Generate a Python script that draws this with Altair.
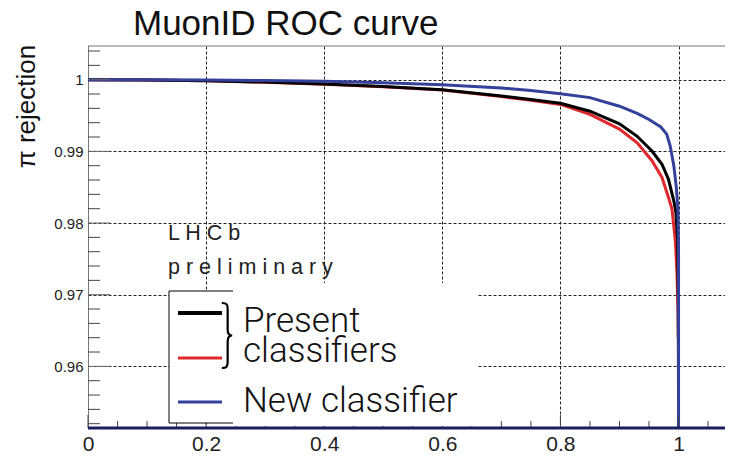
import altair as alt
import pandas as pd

# ---------------- data ----------------
# New classifier (blue)
new_x = [0, 0.1, 0.2, 0.3, 0.4, 0.5, 0.6, 0.7, 0.75, 0.8, 0.85, 0.9, 0.93, 0.95,
         0.97, 0.98, 0.986, 0.992, 0.996, 0.999, 1.0, 1.0]
new_y = [1.0, 0.99998, 0.99995, 0.99988, 0.99977, 0.99958, 0.99930, 0.99885, 0.99850,
         0.99805, 0.99750, 0.99630, 0.99530, 0.99445, 0.99340, 0.99240, 0.99070,
         0.98800, 0.98520, 0.98200, 0.97600, 0.95000]

# Present classifier 1 (black)
pres1_x = [0, 0.1, 0.2, 0.3, 0.4, 0.5, 0.6, 0.7, 0.75, 0.8, 0.85, 0.9, 0.93, 0.955,
           0.972, 0.983, 0.992, 0.9955, 0.9985, 0.9995, 1.0]
pres1_y = [1.0, 0.99995, 0.99986, 0.99966, 0.99940, 0.99905, 0.99860, 0.99772, 0.99722,
           0.99672, 0.99560, 0.99385, 0.99210, 0.99005, 0.98820, 0.98610, 0.98310,
           0.98150, 0.97750, 0.97000, 0.95530]

# Present classifier 2 (red)
pres2_x = [0, 0.1, 0.2, 0.3, 0.4, 0.5, 0.6, 0.7, 0.75, 0.8, 0.85, 0.9, 0.93, 0.955,
           0.972, 0.983, 0.989, 0.9946, 0.9975, 0.999, 0.9995]
pres2_y = [1.0, 0.99995, 0.99985, 0.99965, 0.99938, 0.99902, 0.99855, 0.99765, 0.99712,
           0.99655, 0.99515, 0.99310, 0.99120, 0.98870, 0.98636, 0.98357, 0.98190,
           0.97750, 0.97280, 0.96800, 0.96400]

# axis ticks
x_major = [0, 0.2, 0.4, 0.6, 0.8, 1.0]
x_minor = [0.05, 0.1, 0.15, 0.25, 0.3, 0.35, 0.45, 0.5, 0.55, 0.65, 0.7, 0.75,
           0.85, 0.9, 0.95, 1.05]
y_major = [0.96, 0.97, 0.98, 0.99, 1.0]
y_minor = [0.952, 0.954, 0.956, 0.958, 0.962, 0.964, 0.966, 0.968, 0.972, 0.974,
           0.976, 0.978, 0.982, 0.984, 0.986, 0.988, 0.992, 0.994, 0.996, 0.998,
           1.002, 1.004]

title_text = "MuonID ROC curve"
y_title = "π rejection"
legend_present = ["Present", "classifiers"]
legend_new = "New classifier"
lhcb_lines = ["L H C b", "p r e l i m i n a r y"]

# ---------------- layout ----------------
W, H = 637, 382
xscale = alt.Scale(domain=[0, 1.0787], nice=False, zero=False)
yscale = alt.Scale(domain=[0.9514, 1.0047], nice=False, zero=False)

FONT = "Liberation Sans"
LIGHT = "Roboto"

x_axis = alt.Axis(values=x_major, format=".1~f", title=None, grid=True,
                  gridColor="#222", gridDash=[3, 2], gridWidth=1, ticks=False,
                  domain=False, labelFontSize=21, labelFont=FONT, labelColor="#222",
                  labelPadding=5, labelFlush=False, labelOverlap=False, labelBound=False)
y_axis = alt.Axis(values=y_major, format=".2~f", title=y_title, grid=True,
                  gridColor="#222", gridDash=[3, 2], gridWidth=1, ticks=False,
                  domain=True, domainColor="#777", domainWidth=1,
                  labelFontSize=15, labelFont=FONT, labelColor="#222", labelPadding=5,
                  labelOverlap=False, labelFlush=False,
                  titleFont=FONT, titleFontSize=26, titleFontWeight="normal",
                  titleColor="#111", titleAngle=270, titleX=-54, titleY=60,
                  titleAlign="center", titleBaseline="alphabetic")


def sdf(xs, ys):
    return pd.DataFrame({"x": xs, "y": ys, "i": list(range(len(xs)))})


def curve(xs, ys, color, width):
    return alt.Chart(sdf(xs, ys)).mark_line(color=color, strokeWidth=width, clip=True).encode(
        x=alt.X("x:Q", scale=xscale, axis=x_axis),
        y=alt.Y("y:Q", scale=yscale, axis=y_axis),
        order=alt.Order("i:Q"),
    )


red = curve(pres2_x, pres2_y, "#e0282c", 3)
black = curve(pres1_x, pres1_y, "#000000", 3)
blue = curve(new_x, new_y, "#33419c", 3)

# tick marks pointing inward
ymaj = alt.Chart(pd.DataFrame({"y": y_major})).mark_rule(color="#666", strokeWidth=1).encode(
    y=alt.Y("y:Q", scale=yscale, axis=y_axis), x=alt.value(0), x2=alt.value(22))
ymin = alt.Chart(pd.DataFrame({"y": y_minor})).mark_rule(color="#444", strokeWidth=1, clip=True).encode(
    y=alt.Y("y:Q", scale=yscale, axis=y_axis), x=alt.value(0), x2=alt.value(12))
xmaj = alt.Chart(pd.DataFrame({"x": x_major})).mark_rule(color="#444", strokeWidth=1).encode(
    x=alt.X("x:Q", scale=xscale, axis=x_axis), y=alt.value(H), y2=alt.value(H - 13))
xmin = alt.Chart(pd.DataFrame({"x": x_minor})).mark_rule(color="#444", strokeWidth=1).encode(
    x=alt.X("x:Q", scale=xscale, axis=x_axis), y=alt.value(H), y2=alt.value(H - 7))

one = pd.DataFrame({"k": [0]})

top_line = alt.Chart(one).mark_rule(color="#777", strokeWidth=1).encode(
    x=alt.value(0), x2=alt.value(W), y=alt.value(0))

title = alt.Chart(one).mark_text(align="left", baseline="alphabetic", font=FONT,
                                 fontSize=35, color="#111").encode(
    x=alt.value(45), y=alt.value(-11), text=alt.value(title_text))

lhcb1 = alt.Chart(one).mark_text(align="left", baseline="alphabetic", font=FONT,
                                 fontSize=21.5, color="#222").encode(
    x=alt.value(80), y=alt.value(194), text=alt.value(lhcb_lines[0]))
lhcb2 = alt.Chart(one).mark_text(align="left", baseline="alphabetic", font=FONT,
                                 fontSize=21.5, color="#222").encode(
    x=alt.value(80), y=alt.value(228), text=alt.value(lhcb_lines[1]))

legend_box = alt.Chart(one).mark_rect(fill="white", stroke="black", strokeWidth=1).encode(
    x=alt.value(81), x2=alt.value(160), y=alt.value(245), y2=alt.value(377))
overlay = alt.Chart(one).mark_rect(fill="white", strokeWidth=0).encode(
    x=alt.value(145), x2=alt.value(390), y=alt.value(237), y2=alt.value(H - 2))


def leg_line(color, y, w):
    return alt.Chart(one).mark_rule(color=color, strokeWidth=w).encode(
        x=alt.value(90), x2=alt.value(134), y=alt.value(y))


BRACE = ("M -0.16 -1 C 0 -1 0.02 -0.95 0.02 -0.8 L 0.02 -0.18 C 0.02 -0.05 0.08 0 0.16 0 "
         "C 0.08 0 0.02 0.05 0.02 0.18 L 0.02 0.8 C 0.02 0.95 0 1 -0.16 1")
brace = alt.Chart(one).mark_point(shape=BRACE, filled=False, stroke="black", strokeWidth=2.2,
                                  size=65 * 65, opacity=1).encode(
    x=alt.value(139), y=alt.value(289.5))


def leg_text(txt, y):
    return alt.Chart(one).mark_text(align="left", baseline="alphabetic", font=LIGHT,
                                    fontWeight=300, fontSize=35, color="#111").encode(
        x=alt.value(155), y=alt.value(y), text=alt.value(txt))


bottom_line = alt.Chart(one).mark_rule(color="#1b1f5e", strokeWidth=3).encode(
    x=alt.value(0), x2=alt.value(W), y=alt.value(H))

chart = alt.layer(
    red, black, blue,
    ymaj, ymin, xmaj, xmin, top_line, title,
    lhcb1, lhcb2,
    legend_box, overlay,
    leg_line("#000000", 267, 4), leg_line("#e0282c", 312, 3), leg_line("#33419c", 356, 3),
    brace,
    leg_text(legend_present[0], 286), leg_text(legend_present[1], 316), leg_text(legend_new, 366),
    bottom_line,
).properties(
    width=W, height=H,
    autosize=alt.AutoSizeParams(type="none"),
    padding={"left": 80, "top": 38, "right": 0, "bottom": 26},
).configure_view(stroke=None)

chart.save("out.html", embed_options={"renderer": "svg", "actions": False})
